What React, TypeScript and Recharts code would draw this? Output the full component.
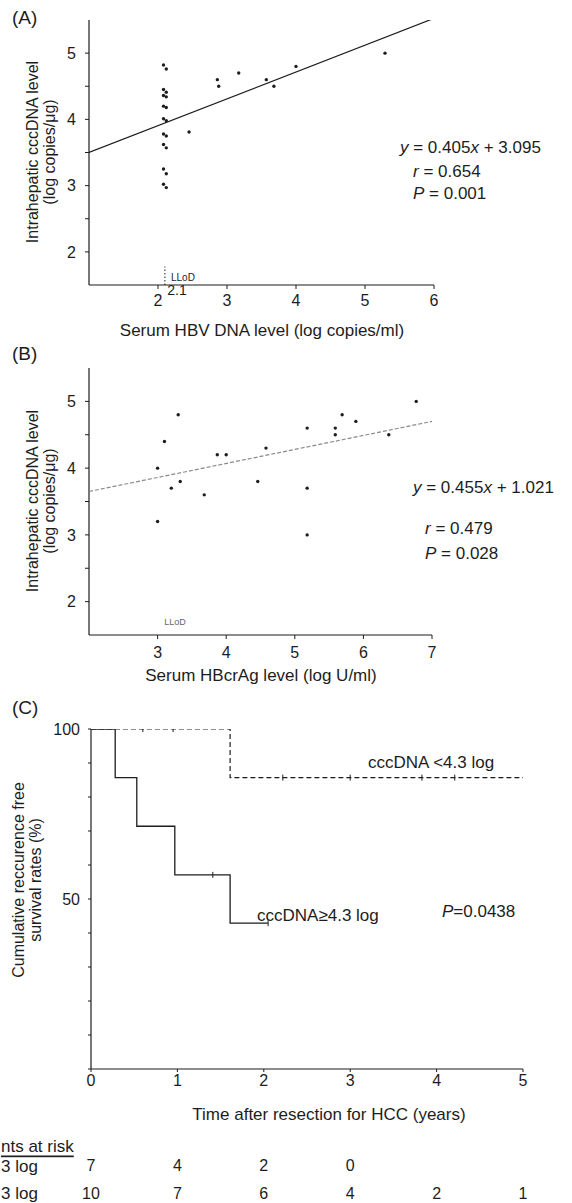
import React from "react"
import {
  ScatterChart, Scatter, ComposedChart, Line, XAxis, YAxis, ReferenceLine,
} from "recharts"

const FONT = "'Liberation Sans', Arial, Helvetica, sans-serif"
const INK = "#1d1d1d"

// (A) serum HBV DNA vs intrahepatic cccDNA
const hbvDnaA = [2.08, 2.12, 2.08, 2.12, 2.08, 2.12, 2.08, 2.12, 2.08, 2.12, 2.08, 2.12, 2.08, 2.12, 2.08, 2.12, 2.08, 2.12,
  2.45, 2.86, 2.88, 3.17, 3.57, 3.68, 4.0, 5.29]
const cccDnaA = [4.82, 4.76, 4.45, 4.41, 4.36, 4.34, 4.2, 4.18, 4.01, 3.98, 3.78, 3.75, 3.62, 3.57, 3.25, 3.18, 3.02, 2.97,
  3.81, 4.6, 4.5, 4.7, 4.6, 4.5, 4.8, 5.0]
const fitXA = [1, 6]
const fitYA = [3.5, 5.525]

// (B) serum HBcrAg vs intrahepatic cccDNA
const hbcragB = [3.0, 3.0, 3.1, 3.3, 3.2, 3.33, 3.68, 3.87, 4.0, 4.46, 4.58, 5.18, 5.18, 5.18, 5.59, 5.59, 5.69, 5.89, 6.37, 6.77]
const cccDnaB = [3.2, 4.0, 4.4, 4.8, 3.7, 3.8, 3.6, 4.2, 4.2, 3.8, 4.3, 4.6, 3.7, 3.0, 4.6, 4.5, 4.8, 4.7, 4.5, 5.0]
const fitXB = [2, 7]
const fitYB = [3.65, 4.7]

// (C) recurrence free survival
const lowTimes = [0, 1.61, 5.0]
const lowSurv = [100, 85.7, 85.7]
const highTimes = [0, 0.28, 0.53, 0.97, 1.61, 2.05]
const highSurv = [100, 85.7, 71.4, 57.1, 42.9, 42.9]
const lowCensorTimes = [0.6, 0.95, 2.22, 3.0, 3.83, 4.21]
const lowCensorSurv = [100, 100, 85.7, 85.7, 85.7, 85.7]
const highCensorTimes = [1.41, 2.05]
const highCensorSurv = [57.1, 42.9]

// numbers at risk
const riskYears = [0, 1, 2, 3, 4, 5]
const riskHigh = [7, 4, 2, 0]
const riskLow = [10, 7, 6, 4, 2, 1]

const yTicksAB = [2, 2.5, 3, 3.5, 4, 4.5, 5]
const xTicksA = [2, 3, 4, 5, 6]
const xTicksB = [3, 4, 5, 6, 7]
const xTicksC = [0, 1, 2, 3, 4, 5]
const yTicksC = [0, 10, 20, 30, 40, 50, 60, 70, 80, 90, 100]

const zip = (xs: number[], ys: number[]) => xs.map((x, i) => ({ x, y: ys[i] }))
const pointsA = zip(hbvDnaA, cccDnaA)
const fitA = zip(fitXA, fitYA)
const pointsB = zip(hbcragB, cccDnaB)
const fitB = zip(fitXB, fitYB)
const curve = (ts: number[], ss: number[]) => ts.map((t, i) => ({ t, s: ss[i] }))
const lowCurve = curve(lowTimes, lowSurv)
const highCurve = curve(highTimes, highSurv)
const lowCensor = curve(lowCensorTimes, lowCensorSurv)
const highCensor = curve(highCensorTimes, highCensorSurv)
const riskRow = (ns: number[], row: number) => ns.map((n, i) => ({ t: riskYears[i], row, n }))
const riskHighPts = riskRow(riskHigh, 1)
const riskLowPts = riskRow(riskLow, 2)

const tickStyle = { fontSize: 16, fill: INK, fontFamily: FONT }
const axisLine = { stroke: INK, strokeWidth: 1.2 }
const tickLine = { stroke: INK, strokeWidth: 1 }
const intOnly = (v: number) => (Number.isInteger(v) ? String(v) : "")

const Dot = (p: any) => <circle cx={p.cx} cy={p.cy} r={1.7} fill={INK} />
const NoDot = () => <g />
const Censor = (p: any) => <line x1={p.cx} x2={p.cx} y1={p.cy - 3} y2={p.cy + 3} stroke={INK} strokeWidth={1} />
const RiskNum = (p: any) => (
  <text x={p.cx} y={p.cy} textAnchor="middle" dominantBaseline="central" fontSize={16} fill={INK} fontFamily={FONT}>
    {p.payload.n}
  </text>
)

function Txt({ x, y, size = 17, anchor = "start", rotate = false, children, ...rest }: any) {
  return (
    <text
      x={rotate ? 0 : x}
      y={rotate ? 0 : y}
      transform={rotate ? `translate(${x},${y}) rotate(-90)` : undefined}
      textAnchor={anchor}
      dominantBaseline="central"
      fontSize={size}
      fill={INK}
      fontFamily={FONT}
      {...rest}
    >
      {children}
    </text>
  )
}

const I = ({ children }: any) => <tspan fontStyle="italic">{children}</tspan>

function Annotations() {
  return (
    <svg width={572} height={1203} style={{ position: "absolute", left: 0, top: 0, pointerEvents: "none" }}>
      {/* A */}
      <Txt x={12} y={17} size={19}>(A)</Txt>
      <Txt x={32} y={152} size={16} anchor="middle" rotate>Intrahepatic cccDNA level</Txt>
      <Txt x={49} y={152} size={16} anchor="middle" rotate>(log copies/μg)</Txt>
      <Txt x={177} y={290} size={14} anchor="middle">2.1</Txt>
      <Txt x={171} y={277} size={10}>LLoD</Txt>
      <Txt x={262} y={330} anchor="middle">Serum HBV DNA level (log copies/ml)</Txt>
      <Txt x={400} y={147}><I>y</I> = 0.405<I>x</I> + 3.095</Txt>
      <Txt x={413} y={171}><I>r</I> = 0.654</Txt>
      <Txt x={413} y={193}><I>P</I> = 0.001</Txt>

      {/* B */}
      <Txt x={12} y={353} size={19}>(B)</Txt>
      <Txt x={32} y={501} size={16} anchor="middle" rotate>Intrahepatic cccDNA level</Txt>
      <Txt x={49} y={501} size={16} anchor="middle" rotate>(log copies/μg)</Txt>
      <Txt x={175} y={622} size={9} anchor="middle" fill="#666">LLoD</Txt>
      <Txt x={261} y={675} anchor="middle">Serum HBcrAg level (log U/ml)</Txt>
      <Txt x={413} y={487}><I>y</I> = 0.455<I>x</I> + 1.021</Txt>
      <Txt x={425} y={528}><I>r</I> = 0.479</Txt>
      <Txt x={425} y={553}><I>P</I> = 0.028</Txt>

      {/* C */}
      <Txt x={12} y={707} size={19}>(C)</Txt>
      <Txt x={18} y={880} size={16} anchor="middle" rotate>Cumulative reccurence free</Txt>
      <Txt x={35} y={880} size={16} anchor="middle" rotate>survival rates (%)</Txt>
      <Txt x={368} y={762}>cccDNA &lt;4.3 log</Txt>
      <Txt x={257} y={915}>cccDNA≥4.3 log</Txt>
      <Txt x={442} y={911}><I>P</I>=0.0438</Txt>
      <Txt x={329} y={1114} anchor="middle">Time after resection for HCC (years)</Txt>
      <Txt x={1} y={1146} size={17} textDecoration="underline">nts at risk</Txt>
      <Txt x={1} y={1166} size={17}>3 log</Txt>
      <Txt x={1} y={1193} size={17}>3 log</Txt>
    </svg>
  )
}

export default function App() {
  return (
    <div style={{ position: "absolute", left: 0, top: 0, width: 572, height: 1203, overflow: "hidden", background: "#fff", fontFamily: FONT }}>
      <div style={{ position: "absolute", left: 0, top: 0 }}>
        <ScatterChart width={572} height={320} margin={{ top: 20, right: 138, bottom: 5, left: 39 }}>
          <XAxis type="number" dataKey="x" domain={[1, 6]} ticks={xTicksA} allowDataOverflow height={30}
            tickSize={4} tickMargin={6} tick={tickStyle} axisLine={axisLine} tickLine={tickLine} />
          <YAxis type="number" dataKey="y" domain={[1.5, 5.5]} ticks={yTicksAB} allowDataOverflow width={50}
            tickSize={4} tickMargin={9} tick={tickStyle} tickFormatter={intOnly} axisLine={axisLine} tickLine={tickLine} />
          <ReferenceLine segment={[{ x: 2.1, y: 1.5 }, { x: 2.1, y: 1.78 }]} ifOverflow="visible"
            stroke={INK} strokeDasharray="1.5 2" />
          <Scatter data={fitA} line={{ stroke: INK, strokeWidth: 1.2 }} shape={NoDot} isAnimationActive={false} />
          <Scatter data={pointsA} shape={Dot} isAnimationActive={false} />
        </ScatterChart>
      </div>

      <div style={{ position: "absolute", left: 0, top: 340 }}>
        <ScatterChart width={572} height={320} margin={{ top: 28, right: 140, bottom: 0, left: 39 }}>
          <XAxis type="number" dataKey="x" domain={[2, 7]} ticks={xTicksB} allowDataOverflow height={25}
            tickSize={4} tickMargin={8} tick={tickStyle} axisLine={axisLine} tickLine={tickLine} />
          <YAxis type="number" dataKey="y" domain={[1.5, 5.5]} ticks={yTicksAB} allowDataOverflow width={50}
            tickSize={4} tickMargin={9} tick={tickStyle} tickFormatter={intOnly} axisLine={axisLine} tickLine={tickLine} />
          <Scatter data={fitB} line={{ stroke: "#8a8a8a", strokeWidth: 1.2, strokeDasharray: "4 2" }} shape={NoDot}
            isAnimationActive={false} />
          <Scatter data={pointsB} shape={Dot} isAnimationActive={false} />
        </ScatterChart>
      </div>

      <div style={{ position: "absolute", left: 0, top: 700 }}>
        <ComposedChart width={572} height={400} margin={{ top: 29, right: 49, bottom: 1, left: 41 }}>
          <XAxis type="number" dataKey="t" domain={[0, 5]} ticks={xTicksC} allowDataOverflow height={30}
            tickSize={3} tickMargin={3} tick={tickStyle} axisLine={axisLine} tickLine={tickLine} />
          <YAxis type="number" domain={[0, 100]} ticks={yTicksC} allowDataOverflow width={50}
            tickSize={3} tickMargin={8} tick={tickStyle} axisLine={axisLine} tickLine={tickLine}
            tickFormatter={(v: number) => (v === 50 || v === 100 ? String(v) : "")} />
          <Line data={lowCurve} dataKey="s" type="stepAfter" stroke={INK} strokeWidth={1.2} strokeDasharray="5 3"
            dot={false} isAnimationActive={false} />
          <Line data={highCurve} dataKey="s" type="stepAfter" stroke={INK} strokeWidth={1.3}
            dot={false} isAnimationActive={false} />
          <Scatter data={lowCensor} dataKey="s" shape={Censor} isAnimationActive={false} />
          <Scatter data={highCensor} dataKey="s" shape={Censor} isAnimationActive={false} />
        </ComposedChart>
      </div>

      <div style={{ position: "absolute", left: 0, top: 1140 }}>
        <ScatterChart width={572} height={70} margin={{ top: 11, right: 49, bottom: 3, left: 91 }}>
          <XAxis type="number" dataKey="t" domain={[0, 5]} hide />
          <YAxis type="number" dataKey="row" domain={[0.5, 2.5]} reversed hide />
          <Scatter data={riskHighPts} shape={RiskNum} isAnimationActive={false} />
          <Scatter data={riskLowPts} shape={RiskNum} isAnimationActive={false} />
        </ScatterChart>
      </div>

      <Annotations />
    </div>
  )
}
